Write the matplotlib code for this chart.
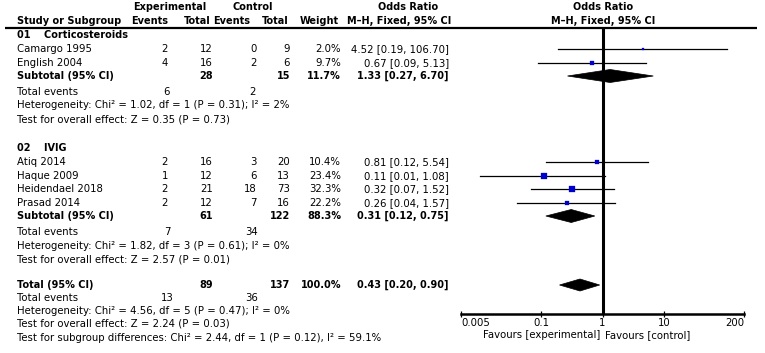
import matplotlib
matplotlib.use("Agg")
import matplotlib.pyplot as plt
import numpy as np
from matplotlib.patches import Polygon

# ---------------- data ----------------
group_names = ["01    Corticosteroids", "02    IVIG"]
studies = ["Camargo 1995", "English 2004", "Atiq 2014", "Haque 2009", "Heidendael 2018", "Prasad 2014"]
study_group = [0, 0, 1, 1, 1, 1]
exp_events = [2, 4, 2, 1, 2, 2]
exp_total = [12, 16, 16, 12, 21, 12]
ctl_events = [0, 2, 3, 6, 18, 7]
ctl_total = [9, 6, 20, 13, 73, 16]
weights = [2.0, 9.7, 10.4, 23.4, 32.3, 22.2]
or_est = [4.52, 0.67, 0.81, 0.11, 0.32, 0.26]
ci_lo = [0.19, 0.09, 0.12, 0.01, 0.07, 0.04]
ci_hi = [106.70, 5.13, 5.54, 1.08, 1.52, 1.57]

sub_exp_total = [28, 61]
sub_ctl_total = [15, 122]
sub_weight = [11.7, 88.3]
sub_or = [1.33, 0.31]
sub_lo = [0.27, 0.12]
sub_hi = [6.70, 0.75]
sub_exp_events = [6, 7]
sub_ctl_events = [2, 34]
sub_het = ["Heterogeneity: Chi² = 1.02, df = 1 (P = 0.31); I² = 2%",
           "Heterogeneity: Chi² = 1.82, df = 3 (P = 0.61); I² = 0%"]
sub_eff = ["Test for overall effect: Z = 0.35 (P = 0.73)",
           "Test for overall effect: Z = 2.57 (P = 0.01)"]

tot_exp_total = 89
tot_ctl_total = 137
tot_weight = 100.0
tot_or = 0.43
tot_lo = 0.20
tot_hi = 0.90
tot_exp_events = 13
tot_ctl_events = 36
tot_het = "Heterogeneity: Chi² = 4.56, df = 5 (P = 0.47); I² = 0%"
tot_eff = "Test for overall effect: Z = 2.24 (P = 0.03)"
sub_diff = "Test for subgroup differences: Chi² = 2.44, df = 1 (P = 0.12), I² = 59.1%"

tick_vals = [0.005, 0.1, 1, 10, 200]
tick_labels = ["0.005", "0.1", "1", "10", "200"]
fav_left = "Favours [experimental]"
fav_right = "Favours [control]"

# ---------------- layout (pixels) ----------------
W, H = 765, 353
FS = 7.3
FSB = 7.0
plt.rcParams['font.family'] = ['DejaVu Sans']

fig = plt.figure(figsize=(W / 100, H / 100), dpi=100)
ax = fig.add_axes([0, 0, 1, 1])
ax.set_xlim(0, W)
ax.set_ylim(H, 0)
ax.axis("off")

PX0, PX1 = 461, 744
fx = fig.add_axes([PX0 / W, 0, (PX1 - PX0) / W, 1])
fx.set_xscale("log")
fx.set_xlim(tick_vals[0], tick_vals[-1])
fx.set_ylim(H, 0)
fx.patch.set_alpha(0)
for s in ["top", "left", "right"]:
    fx.spines[s].set_visible(False)

AXIS_Y = 314
LINE_Y = 28
X_NAME = 17
C_EE, C_ET, C_CE, C_CT, C_W, C_CI = 168, 213, 257, 290, 341, 449
C_TE_E, C_TE_C = 167, 252

group_y = [35, 148]
study_y = [49, 63, 162, 176, 189, 203]
sub_y = [76, 216]
sub_te_y = [92, 232]
sub_het_y = [105, 246]
sub_eff_y = [119, 260]
tot_y = 285
tot_te_y = 298
tot_het_y = 311
tot_eff_y = 324
sub_diff_y = 338


def t(x, y, s, ha="left", bold=False):
    ax.text(x, y, s, ha=ha, va="center", fontsize=FSB if bold else FS,
            fontweight="bold" if bold else "normal")


# headers
t(170, 7, "Experimental", ha="center", bold=True)
t(253, 7, "Control", ha="center", bold=True)
t(408, 7, "Odds Ratio", ha="center", bold=True)
t(603, 7, "Odds Ratio", ha="center", bold=True)
t(X_NAME, 21, "Study or Subgroup", bold=True)
t(168, 21, "Events", ha="right", bold=True)
t(211, 21, "Total", ha="right", bold=True)
t(250, 21, "Events", ha="right", bold=True)
t(289, 21, "Total", ha="right", bold=True)
t(339, 21, "Weight", ha="right", bold=True)
t(451, 21, "M–H, Fixed, 95% CI", ha="right", bold=True)
t(603, 21, "M–H, Fixed, 95% CI", ha="center", bold=True)
ax.plot([5, 757], [LINE_Y, LINE_Y], color="black", lw=1.6, solid_capstyle="butt")


def ci_text(o, lo, hi):
    return f"{o:.2f} [{lo:.2f}, {hi:.2f}]"


def diamond(o, lo, hi, y, h=12):
    poly = Polygon([[lo, y], [o, y - h / 2], [hi, y], [o, y + h / 2]],
                   closed=True, facecolor="black", edgecolor="black", lw=0.5)
    fx.add_patch(poly)


for g in range(len(group_names)):
    t(X_NAME, group_y[g], group_names[g], bold=True)
    idx = [i for i in range(len(studies)) if study_group[i] == g]
    for i in idx:
        y = study_y[i]
        t(X_NAME, y, studies[i])
        t(C_EE, y, str(exp_events[i]), ha="right")
        t(C_ET, y, str(exp_total[i]), ha="right")
        t(C_CE, y, str(ctl_events[i]), ha="right")
        t(C_CT, y, str(ctl_total[i]), ha="right")
        t(C_W, y, f"{weights[i]:.1f}%", ha="right")
        t(C_CI, y, ci_text(or_est[i], ci_lo[i], ci_hi[i]), ha="right")
        fx.plot([ci_lo[i], ci_hi[i]], [y, y], color="black", lw=0.9)
        side_px = 6.0 * np.sqrt(weights[i] / max(weights))
        fx.plot([or_est[i]], [y], marker="s", ms=max(side_px, 2.2) / 1.389,
                color="#0000cc", mec="#0000cc", mew=0.2, ls="none")
    y = sub_y[g]
    t(X_NAME, y, "Subtotal (95% CI)", bold=True)
    t(C_ET, y, str(sub_exp_total[g]), ha="right", bold=True)
    t(C_CT, y, str(sub_ctl_total[g]), ha="right", bold=True)
    t(C_W, y, f"{sub_weight[g]:.1f}%", ha="right", bold=True)
    t(C_CI, y, ci_text(sub_or[g], sub_lo[g], sub_hi[g]), ha="right", bold=True)
    diamond(sub_or[g], sub_lo[g], sub_hi[g], y, h=13)
    t(X_NAME, sub_te_y[g], "Total events")
    t(C_TE_E, sub_te_y[g], str(sub_exp_events[g]), ha="center")
    t(C_TE_C, sub_te_y[g], str(sub_ctl_events[g]), ha="center")
    t(X_NAME, sub_het_y[g], sub_het[g])
    t(X_NAME, sub_eff_y[g], sub_eff[g])

# overall
t(X_NAME, tot_y, "Total (95% CI)", bold=True)
t(C_ET, tot_y, str(tot_exp_total), ha="right", bold=True)
t(C_CT, tot_y, str(tot_ctl_total), ha="right", bold=True)
t(C_W, tot_y, f"{tot_weight:.1f}%", ha="right", bold=True)
t(C_CI, tot_y, ci_text(tot_or, tot_lo, tot_hi), ha="right", bold=True)
diamond(tot_or, tot_lo, tot_hi, tot_y, h=12)
t(X_NAME, tot_te_y, "Total events")
t(C_TE_E, tot_te_y, str(tot_exp_events), ha="center")
t(C_TE_C, tot_te_y, str(tot_ctl_events), ha="center")
t(X_NAME, tot_het_y, tot_het)
t(X_NAME, tot_eff_y, tot_eff)
t(X_NAME, sub_diff_y, sub_diff)

# null line
fx.plot([1, 1], [LINE_Y, AXIS_Y], color="black", lw=2.2, solid_capstyle="butt")

# x axis
fx.spines["bottom"].set_position(("data", AXIS_Y))
fx.spines["bottom"].set_linewidth(1.8)
fx.set_xticks(tick_vals)
fx.set_xticklabels(tick_labels, fontsize=FS)
fx.xaxis.set_minor_locator(matplotlib.ticker.NullLocator())
fx.tick_params(axis="x", direction="inout", length=4.5, width=0.9, pad=0.5)
fx.set_yticks([])
labs = fx.get_xticklabels()
labs[0].set_ha("left")
labs[-1].set_ha("right")
fx.text(0.94, 335, fav_left, ha="right", va="center", fontsize=FS)
fx.text(1.08, 335, fav_right, ha="left", va="center", fontsize=FS)

fig.savefig("out.png", dpi=100)
